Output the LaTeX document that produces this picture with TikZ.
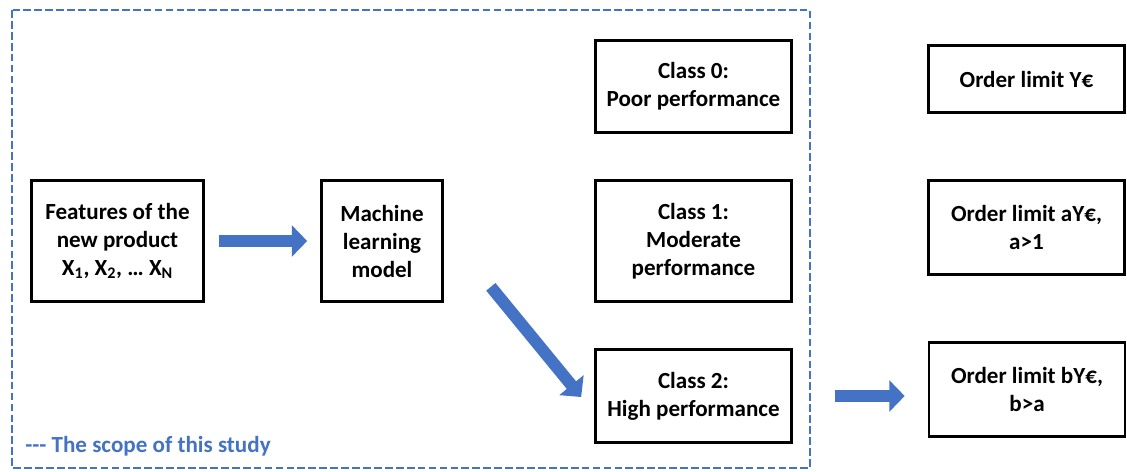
\documentclass[tikz,border=0pt]{standalone}
\usepackage{fontspec}
\setmainfont{Carlito}
\usetikzlibrary{arrows.meta,calc}
\definecolor{accent}{HTML}{4472C4}
\begin{document}
\begin{tikzpicture}[x=0.75pt,y=-0.75pt,
  every node/.style={font=\fontsize{17.3}{21}\selectfont\bfseries},
  box/.style={draw,line width=2pt,align=center,inner sep=0pt},
  wide/.style={minimum width={196*0.75pt}},
  blockarrow/.style={draw=accent,line width=9pt,-{Triangle[width=23pt,length=11.5pt]}},
]
\useasboundingbox (0,0) rectangle (1127,471);

% scope frame
\draw[accent,line width=2.2pt,dash pattern=on 5.8pt off 2.4pt] (12,10) rectangle (810,468);
\node[anchor=west,inner sep=0pt,text=accent] (scope) at (25,446) {{-}{-}{-} The scope of this study};

% model pipeline
\node[box,minimum width={172*0.75pt},minimum height={121*0.75pt}] (feat) at (117.5,241)
  {Features of the\\new product\\X\textsubscript{1}, X\textsubscript{2}, … X\textsubscript{N}};
\node[box,minimum width={121*0.75pt},minimum height={121*0.75pt}] (ml) at (382,241)
  {Machine\\learning\\model};

% performance classes
\node[box,wide,minimum height={92*0.75pt}] (c0) at (693.5,86.5) {Class 0:\\Poor performance};
\node[box,wide,minimum height={121*0.75pt}] (c1) at (693.5,241) {Class 1:\\Moderate\\performance};
\node[box,wide,minimum height={93*0.75pt}] (c2) at (693.5,396) {Class 2:\\High performance};

% order limits
\node[box,wide,minimum height={67*0.75pt}] (oy) at (1026.5,79) {Order limit Y€};
\node[box,wide,minimum height={94*0.75pt}] (oa) at (1026.5,227.5) {Order limit aY€,\\a>1};
\node[box,wide,minimum height={94*0.75pt}] (ob) at (1027,389.5) {Order limit bY€,\\b>a};

% arrows
\draw[blockarrow,shorten <=14*0.75pt,shorten >=13*0.75pt] (feat.east) -- (ml.west);
\coordinate (dstart) at ($(ml.south east)+(47,-16)$);
\coordinate (dend) at ($(c2.west)+(-13,1)$);
\draw[blockarrow] (dstart) -- (dend);
\draw[blockarrow,shorten <=42*0.75pt,shorten >=23*0.75pt] (c2.east) -- (c2.east -| ob.west);
\end{tikzpicture}
\end{document}
